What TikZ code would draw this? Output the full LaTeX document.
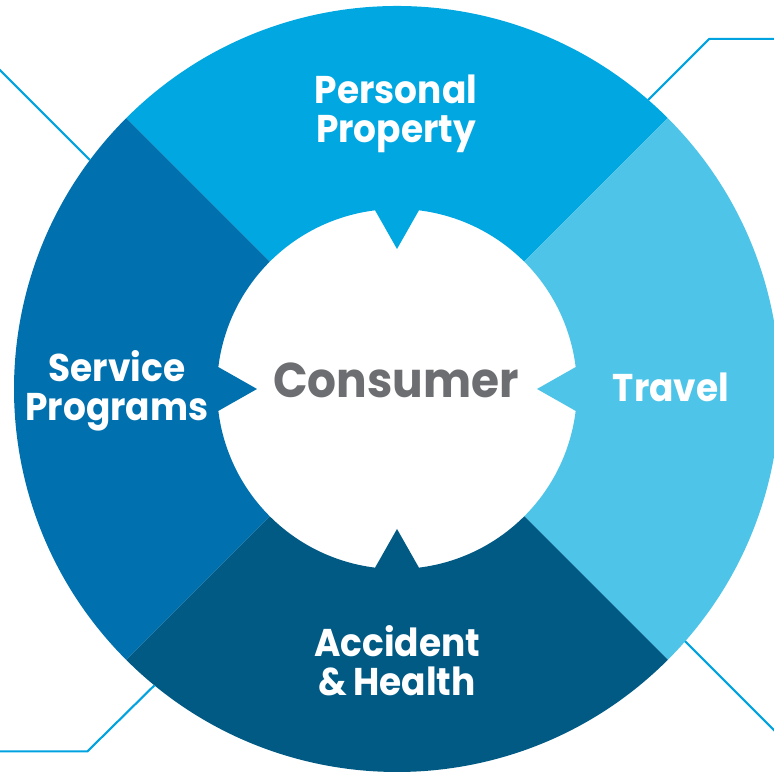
\documentclass[tikz,border=0pt]{standalone}
\usepackage{fontspec}
\setmainfont{Poppins}
\newfontfamily\ringfont{Poppins}[FakeStretch=0.93]
\usepackage{xcolor}
\usetikzlibrary{positioning}

\definecolor{propblue}{HTML}{00A7E1}
\definecolor{travelblue}{HTML}{4EC5E8}
\definecolor{healthblue}{HTML}{005A84}
\definecolor{serviceblue}{HTML}{0071AE}
\definecolor{consumergray}{HTML}{6D6E71}
\definecolor{leaderblue}{HTML}{00A3E0}

\begin{document}
\begin{tikzpicture}[
    seglabel/.style={text=white, align=center, anchor=base, inner sep=0pt,
        font={\ringfont\bfseries\fontsize{11}{11.1}\selectfont}},
    centrelabel/.style={text=consumergray, anchor=base, inner sep=0pt,
        font={\ringfont\bfseries\fontsize{13.9}{14}\selectfont}},
    leader/.style={draw=leaderblue, line width=0.6pt}
]
\clip (0,0) rectangle (7.74,7.72);

\begin{scope}[shift={(3.97,3.83)}]
% ring segments, each with a tooth pointing at the centre
\foreach \ang/\col in {90/propblue, 0/travelblue, -90/healthblue, 180/serviceblue}{
    \fill[\col] (\ang-45:3.83) arc[start angle=\ang-45, end angle=\ang+45, radius=3.83]
        -- (\ang+45:1.80) arc[start angle=\ang+45, end angle=\ang+7, radius=1.80]
        -- (\ang:1.40) -- (\ang-7:1.80)
        arc[start angle=\ang-7, end angle=\ang-45, radius=1.80] -- cycle;
}
\coordinate (tlend) at (143.3:3.83);
\coordinate (trend) at (49:3.83);
\coordinate (brend) at (-41.2:3.83);
\coordinate (blend) at (230.7:3.83);
\end{scope}

\node[seglabel] (property) at (3.96,6.29) {Personal\\Property};
\node[seglabel] (travel) at (6.71,3.70) {Travel};
\node[seglabel] (health) at (3.97,0.76) {Accident\\\&\,Health};
\node[seglabel] (service) at (1.17,3.51) {Service\\Programs};
\node[centrelabel] (consumer) at (3.96,3.74) {Consumer};

\draw[leader] (tlend) -- ++(-0.95,0.95);
\draw[leader] (trend) -- ++(0.61,0.61) -- ++(1,0);
\draw[leader] (brend) -- ++(1.2,-1.2);
\draw[leader] (blend) -- ++(-0.67,-0.66) -- ++(-1,0);

\end{tikzpicture}
\end{document}
